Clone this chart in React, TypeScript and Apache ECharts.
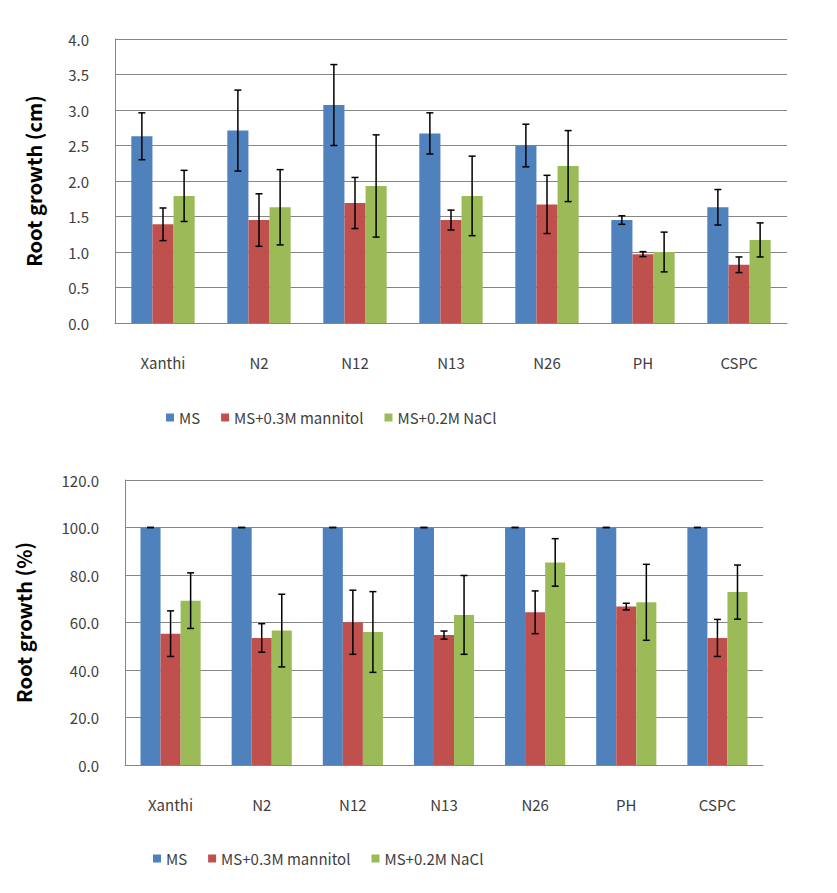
import React, { useEffect, useRef } from "react";
import * as echarts from "echarts";

const categories = ["Xanthi", "N2", "N12", "N13", "N26", "PH", "CSPC"];
const seriesNames = ["MS", "MS+0.3M mannitol", "MS+0.2M NaCl"];
const colors = ["#4F81BD", "#C0504D", "#9BBB59"];

// Top chart: root growth (cm)
const cmMS = [2.63, 2.71, 3.07, 2.67, 2.5, 1.45, 1.63];
const cmMannitol = [1.39, 1.45, 1.69, 1.45, 1.67, 0.97, 0.82];
const cmNaCl = [1.79, 1.63, 1.93, 1.79, 2.21, 1.0, 1.17];
const cmMSErr = [0.33, 0.57, 0.57, 0.29, 0.3, 0.06, 0.25];
const cmMannitolErr = [0.23, 0.37, 0.36, 0.14, 0.41, 0.035, 0.11];
const cmNaClErr = [0.36, 0.53, 0.72, 0.56, 0.5, 0.28, 0.24];

// Bottom chart: root growth (%)
const pctMS = [100, 100, 100, 100, 100, 100, 100];
const pctMannitol = [55.3, 53.5, 60.1, 54.7, 64.3, 66.7, 53.5];
const pctNaCl = [69.2, 56.6, 56.0, 63.2, 85.3, 68.5, 72.8];
const pctMSErr = [0, 0, 0, 0, 0, 0, 0];
const pctMannitolErr = [9.6, 6.0, 13.5, 1.7, 9.0, 1.4, 7.8];
const pctNaClErr = [11.7, 15.3, 17.0, 16.6, 10.0, 16.0, 11.4];

const cmTicks = { min: 0, max: 4, interval: 0.5 };
const pctTicks = { min: 0, max: 120, interval: 20 };

const FONT = "'Noto Sans CJK KR', 'Noto Sans', sans-serif";
const GAP_PCT = 34;

function errorSeries(
  values: number[],
  errs: number[],
  seriesIdx: number,
  axisIdx: number
) {
  return {
    type: "custom",
    name: seriesNames[seriesIdx],
    xAxisIndex: axisIdx,
    yAxisIndex: axisIdx,
    z: 10,
    silent: true,
    data: values.map((v, i) => [i, v - errs[i], v + errs[i]]),
    renderItem: (params: any, api: any) => {
      const idx = api.value(0);
      const lo = api.coord([idx, api.value(1)]);
      const hi = api.coord([idx, api.value(2)]);
      const band = api.size([1, 0])[0];
      const barW = (band * (1 - GAP_PCT / 100)) / 3;
      const x = lo[0] + (seriesIdx - 1) * barW;
      const cap = 3.5;
      const style = { stroke: "#000", lineWidth: 1.5 };
      return {
        type: "group",
        children: [
          { type: "line", shape: { x1: x, y1: lo[1], x2: x, y2: hi[1] }, style },
          { type: "line", shape: { x1: x - cap, y1: hi[1], x2: x + cap, y2: hi[1] }, style },
          { type: "line", shape: { x1: x - cap, y1: lo[1], x2: x + cap, y2: lo[1] }, style },
        ],
      };
    },
  };
}

function barSeries(values: number[], idx: number, axisIdx: number) {
  return {
    type: "bar",
    name: seriesNames[idx],
    xAxisIndex: axisIdx,
    yAxisIndex: axisIdx,
    data: values,
    itemStyle: { color: colors[idx] },
    barGap: "0%",
    barCategoryGap: GAP_PCT + "%",
  };
}

function yAxis(ticks: any, name: string, gridIndex: number, nameGap: number) {
  return {
    type: "value",
    gridIndex,
    min: ticks.min,
    max: ticks.max,
    interval: ticks.interval,
    name,
    nameLocation: "middle",
    nameGap,
    nameTextStyle: { fontFamily: FONT, fontSize: 20, fontWeight: "bold", color: "#000" },
    axisLine: { show: true, lineStyle: { color: "#868686", width: 1 } },
    axisTick: { show: false },
    axisLabel: {
      fontFamily: FONT,
      fontSize: 15,
      color: "#404040",
      margin: 26,
      formatter: (v: number) => v.toFixed(1),
    },
    splitLine: { show: true, lineStyle: { color: "#868686", width: 1 } },
  };
}

function xAxis(gridIndex: number) {
  return {
    type: "category",
    gridIndex,
    data: categories,
    axisLine: { show: true, lineStyle: { color: "#868686", width: 1 } },
    axisTick: { show: false },
    axisLabel: { fontFamily: FONT, fontSize: 15, color: "#404040", margin: 32 },
  };
}

function legend(left: number, top: number) {
  return {
    data: seriesNames,
    left,
    top,
    padding: 0,
    icon: "rect",
    itemWidth: 8,
    itemHeight: 8,
    itemGap: 21,
    textStyle: { fontFamily: FONT, fontSize: 15, color: "#404040" },
  };
}

export default function App() {
  const ref = useRef<HTMLDivElement>(null);
  useEffect(() => {
    document.body.style.margin = "0";
    if (!ref.current) return;
    const chart = echarts.init(ref.current, null, { renderer: "svg" });
    chart.setOption({
      animation: false,
      backgroundColor: "#fff",
      grid: [
        { left: 115, top: 39, width: 672, height: 284 },
        { left: 125, top: 480, width: 638, height: 285 },
      ],
      legend: [legend(166, 410), legend(153, 851)],
      xAxis: [xAxis(0), xAxis(1)],
      yAxis: [
        yAxis(cmTicks, "Root growth (cm)", 0, 72),
        yAxis(pctTicks, "Root growth (%)", 1, 92),
      ],
      series: [
        barSeries(cmMS, 0, 0),
        barSeries(cmMannitol, 1, 0),
        barSeries(cmNaCl, 2, 0),
        errorSeries(cmMS, cmMSErr, 0, 0),
        errorSeries(cmMannitol, cmMannitolErr, 1, 0),
        errorSeries(cmNaCl, cmNaClErr, 2, 0),
        barSeries(pctMS, 0, 1),
        barSeries(pctMannitol, 1, 1),
        barSeries(pctNaCl, 2, 1),
        errorSeries(pctMS, pctMSErr, 0, 1),
        errorSeries(pctMannitol, pctMannitolErr, 1, 1),
        errorSeries(pctNaCl, pctNaClErr, 2, 1),
      ],
    });
    return () => chart.dispose();
  }, []);
  return <div ref={ref} style={{ width: 837, height: 893 }} />;
}
